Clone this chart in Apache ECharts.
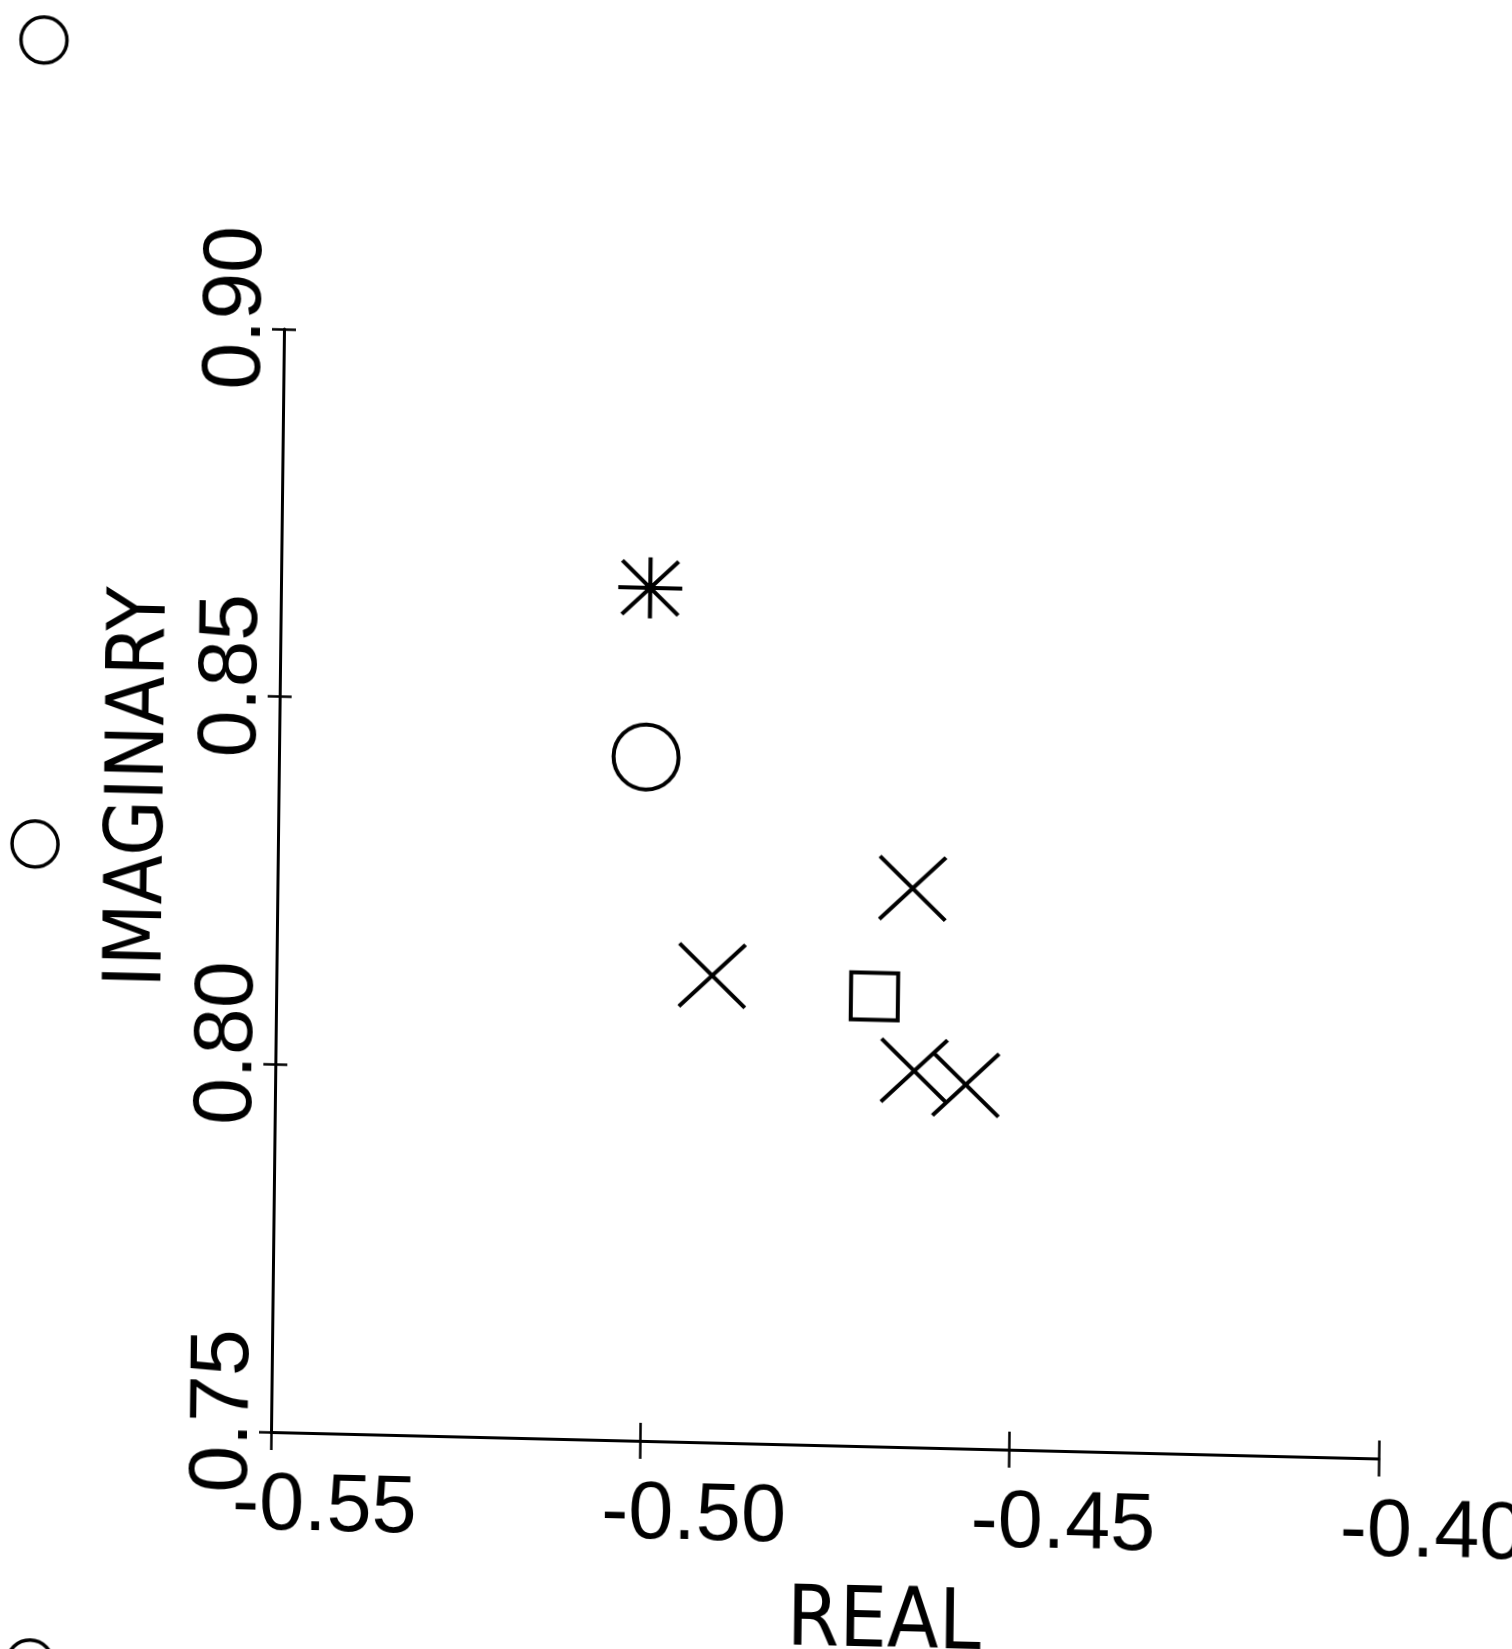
<!DOCTYPE html>
<html><head><meta charset="utf-8">
<script src="https://cdn.jsdelivr.net/npm/echarts@6/dist/echarts.min.js"></script>
<style>
html,body{margin:0;padding:0;background:#fff;overflow:hidden;width:1512px;height:1649px;position:relative}
/* the scanned sheet is slightly tilted: tilt the whole chart the same way */
#c{position:absolute;left:-60px;top:-60px;width:1632px;height:1769px;
   transform-origin:331px 1492px;transform:matrix(0.99971,0.02391,-0.01178,0.99993,0,0)}
</style>
</head><body><div id="c"></div>
<script>
// ---- data ----
const xTicks = [-0.55, -0.50, -0.45, -0.40];
const yTicks = [0.75, 0.80, 0.85, 0.90];
const asteriskPoints = [[-0.500, 0.866]];
const circlePoints = [[-0.5003, 0.843]];
const crossPoints = [[-0.464, 0.826], [-0.491, 0.8135], [-0.4635, 0.8012], [-0.4565, 0.7995]];
const squarePoints = [[-0.469, 0.8112]];
const xName = 'REAL';
const yName = 'IMAGINARY';

const chart = echarts.init(document.getElementById('c'), null, {renderer: 'canvas'});
const ink = '#000';
const markStyle = {color: 'rgba(0,0,0,0)', borderColor: ink, borderWidth: 4, opacity: 1};
const fmt = v => Number(v).toFixed(2);
const xMin = xTicks[0], xMax = xTicks[xTicks.length - 1];
const yMin = yTicks[0], yMax = yTicks[yTicks.length - 1];
const xStep = +(xTicks[1] - xTicks[0]).toFixed(4);
const yStep = +(yTicks[1] - yTicks[0]).toFixed(4);
const nameFont = "'DejaVu Sans Condensed', 'Liberation Sans', sans-serif";

const baseX = {type: 'value', min: xMin, max: xMax, interval: xStep, splitLine: {show: false}};
const baseY = {type: 'value', min: yMin, max: yMax, interval: yStep, splitLine: {show: false}};

chart.setOption({
  animation: false,
  backgroundColor: 'rgba(0,0,0,0)',
  grid: {left: 331, right: 193, top: 389, bottom: 277, containLabel: false, outerBoundsMode: 'none'},
  xAxis: [
    Object.assign({}, baseX, {
      position: 'bottom',
      axisLine: {show: true, lineStyle: {color: ink, width: 3}},
      axisTick: {show: true, inside: false, length: 18, lineStyle: {color: ink, width: 2.5}},
      axisLabel: {show: true, formatter: fmt, color: ink, fontFamily: 'Liberation Sans', fontSize: 81,
        margin: 34, align: 'left', padding: [0, 0, 0, -38]},
      name: xName, nameLocation: 'middle', nameGap: 136,
      nameTextStyle: {color: ink, fontFamily: nameFont, fontSize: 84, padding: [0, 0, 0, 122]}
    }),
    Object.assign({}, baseX, {
      position: 'bottom',
      axisLine: {show: false},
      axisTick: {show: true, inside: true, length: 18, lineStyle: {color: ink, width: 2.5}},
      axisLabel: {show: false}
    })
  ],
  yAxis: [
    Object.assign({}, baseY, {
      position: 'left',
      axisLine: {show: true, lineStyle: {color: ink, width: 3}},
      axisTick: {show: true, inside: false, length: 12, lineStyle: {color: ink, width: 2.5}},
      axisLabel: {show: true, formatter: fmt, color: ink, fontFamily: 'Liberation Sans', fontSize: 84,
        rotate: 90, margin: 5, padding: [0, 0, 0, 40]},
      name: yName, nameLocation: 'middle', nameGap: 88, nameRotate: 90,
      nameTextStyle: {color: ink, fontFamily: nameFont, fontSize: 80, padding: [0, 0, 0, 180]}
    }),
    Object.assign({}, baseY, {
      position: 'left',
      axisLine: {show: false},
      axisTick: {show: true, inside: true, length: 12, lineStyle: {color: ink, width: 2.5}},
      axisLabel: {show: false}
    })
  ],
  graphic: [
    {type: 'circle', shape: {cx: 87.6, cy: 105.8, r: 23}, style: {fill: 'none', stroke: ink, lineWidth: 3.5}},
    {type: 'circle', shape: {cx: 88.1, cy: 909.8, r: 23}, style: {fill: 'none', stroke: ink, lineWidth: 3.5}},
    {type: 'circle', shape: {cx: 92.7, cy: 1728.7, r: 23}, style: {fill: 'none', stroke: ink, lineWidth: 3.5}}
  ],
  series: [
    {type: 'scatter', name: 'asterisk', data: asteriskPoints,
      symbol: 'path://M5 0L5 10M0 5L10 5M0.6 0.6L9.4 9.4M9.4 0.6L0.6 9.4', symbolSize: [64, 61],
      itemStyle: markStyle, emphasis: {disabled: true}},
    {type: 'scatter', name: 'circle', data: circlePoints,
      symbol: 'circle', symbolSize: 65, itemStyle: markStyle, emphasis: {disabled: true}},
    {type: 'scatter', name: 'cross', data: crossPoints,
      symbol: 'path://M0 0L10 10M10 0L0 10', symbolSize: [66, 63],
      itemStyle: markStyle, emphasis: {disabled: true}},
    {type: 'scatter', name: 'square', data: squarePoints,
      symbol: 'rect', symbolSize: 47, itemStyle: markStyle, emphasis: {disabled: true}}
  ]
});
</script>
</body></html>
